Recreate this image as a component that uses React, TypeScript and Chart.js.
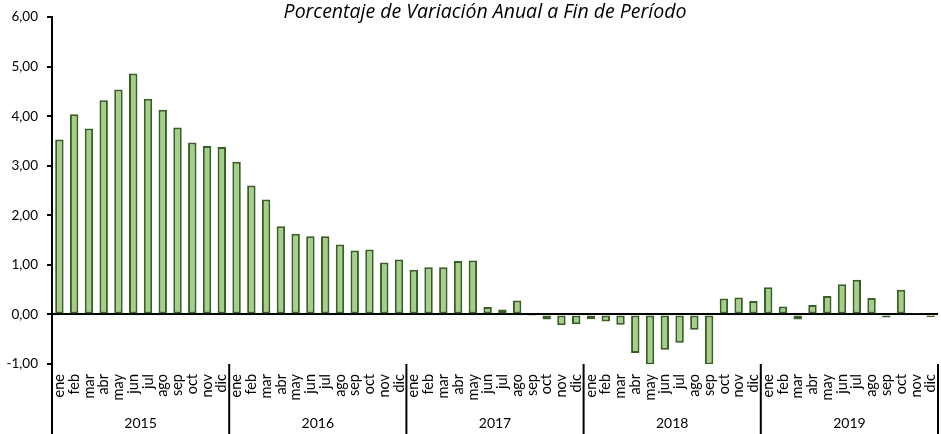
import React, { useEffect, useRef } from "react";
import { Chart, registerables } from "chart.js";

Chart.register(...registerables);

const MONTHS = ["ene", "feb", "mar", "abr", "may", "jun", "jul", "ago", "sep", "oct", "nov", "dic"];
const YEARS = ["2015", "2016", "2017", "2018", "2019"];
const TITLE = "Porcentaje de Variación Anual a Fin de Período";

const V2015 = [3.53, 4.04, 3.75, 4.32, 4.54, 4.86, 4.35, 4.13, 3.77, 3.47, 3.40, 3.38];
const V2016 = [3.08, 2.60, 2.32, 1.78, 1.63, 1.58, 1.58, 1.41, 1.29, 1.31, 1.05, 1.11];
const V2017 = [0.90, 0.95, 0.95, 1.08, 1.09, 0.15, 0.10, 0.28, -0.03, -0.10, -0.22, -0.20];
const V2018 = [-0.09, -0.14, -0.21, -0.78, -1.01, -0.71, -0.57, -0.31, -1.01, 0.32, 0.34, 0.27];
const V2019 = [0.55, 0.16, -0.10, 0.19, 0.37, 0.61, 0.70, 0.33, -0.06, 0.50, 0.03, -0.05];

const Y_MIN = -1;
const Y_MAX = 6;
const Y_STEP = 1;

const FONT = "Lato, 'Open Sans', sans-serif";
const TITLE_FONT = "'Open Sans', Lato, sans-serif";

export default function App() {
  const ref = useRef<HTMLCanvasElement | null>(null);

  useEffect(() => {
    const canvas = ref.current;
    if (!canvas) return;
    const labels: string[] = [];
    YEARS.forEach(() => MONTHS.forEach((m) => labels.push(m)));
    const values = [...V2015, ...V2016, ...V2017, ...V2018, ...V2019];

    const yearPlugin = {
      id: "yearGroups",
      afterDraw(chart: any) {
        const { ctx, chartArea, scales } = chart;
        const x = scales.x;
        const h = chart.height;
        ctx.save();
        ctx.strokeStyle = "#000";
        ctx.lineWidth = 2;
        ctx.beginPath();
        ctx.moveTo(chartArea.left, chartArea.bottom);
        ctx.lineTo(chartArea.left, h);
        ctx.stroke();
        const n = MONTHS.length;
        ctx.fillStyle = "#000";
        ctx.font = "14px " + FONT;
        ctx.textAlign = "center";
        ctx.textBaseline = "middle";
        YEARS.forEach((yr, i) => {
          const start = i * n;
          const end = start + n - 1;
          const right =
            i === YEARS.length - 1
              ? chartArea.right
              : (x.getPixelForValue(end) + x.getPixelForValue(end + 1)) / 2;
          const left =
            i === 0 ? chartArea.left : (x.getPixelForValue(start - 1) + x.getPixelForValue(start)) / 2;
          ctx.beginPath();
          ctx.moveTo(right, chartArea.bottom);
          ctx.lineTo(right, h);
          ctx.stroke();
          ctx.fillText(yr, (left + right) / 2, h - 11);
        });
        ctx.font = "italic 19.5px " + TITLE_FONT;
        ctx.fillText(TITLE, 485, 12);
        ctx.restore();
      },
    };

    const chart = new Chart(canvas, {
      type: "bar",
      data: {
        labels,
        datasets: [
          {
            data: values,
            backgroundColor: "#a5cf88",
            borderColor: "#385f25",
            borderWidth: 2,
            borderSkipped: false,
            categoryPercentage: 1,
            barPercentage: 0.57,
          },
        ],
      },
      options: {
        animation: false,
        responsive: true,
        maintainAspectRatio: false,
        layout: { padding: { top: 17, right: 3, left: 0, bottom: 0 } },
        plugins: {
          legend: { display: false },
          tooltip: { enabled: false },
          title: { display: false },
        },
        scales: {
          x: {
            grid: { display: false },
            border: { display: false },
            ticks: {
              autoSkip: false,
              minRotation: 90,
              maxRotation: 90,
              padding: 2,
              color: "#000",
              font: { family: FONT, size: 14.5 },
            },
            afterFit(scale: any) {
              scale.height = 70;
              scale.paddingLeft = 0;
              scale.paddingRight = 0;
            },
          },
          y: {
            min: Y_MIN,
            max: Y_MAX,
            z: 1,
            ticks: {
              stepSize: Y_STEP,
              padding: 9,
              color: "#000",
              font: { family: FONT, size: 13.5 },
              callback: (v: any) => Number(v).toFixed(2).replace(".", ","),
            },
            grid: {
              drawOnChartArea: true,
              drawTicks: true,
              tickLength: 5,
              lineWidth: 2,
              tickColor: "#000",
              color: (c: any) => (c.tick && c.tick.value === 0 ? "#000" : "rgba(0,0,0,0)"),
            },
            border: { display: true, color: "#000", width: 2 },
            afterFit(scale: any) {
              scale.width = 52;
            },
          },
        },
      },
      plugins: [yearPlugin],
    });
    return () => chart.destroy();
  }, []);

  return (
    <div style={{ position: "fixed", left: 0, top: 0, width: 941, height: 434, background: "#fff" }}>
      <canvas ref={ref} />
    </div>
  );
}
